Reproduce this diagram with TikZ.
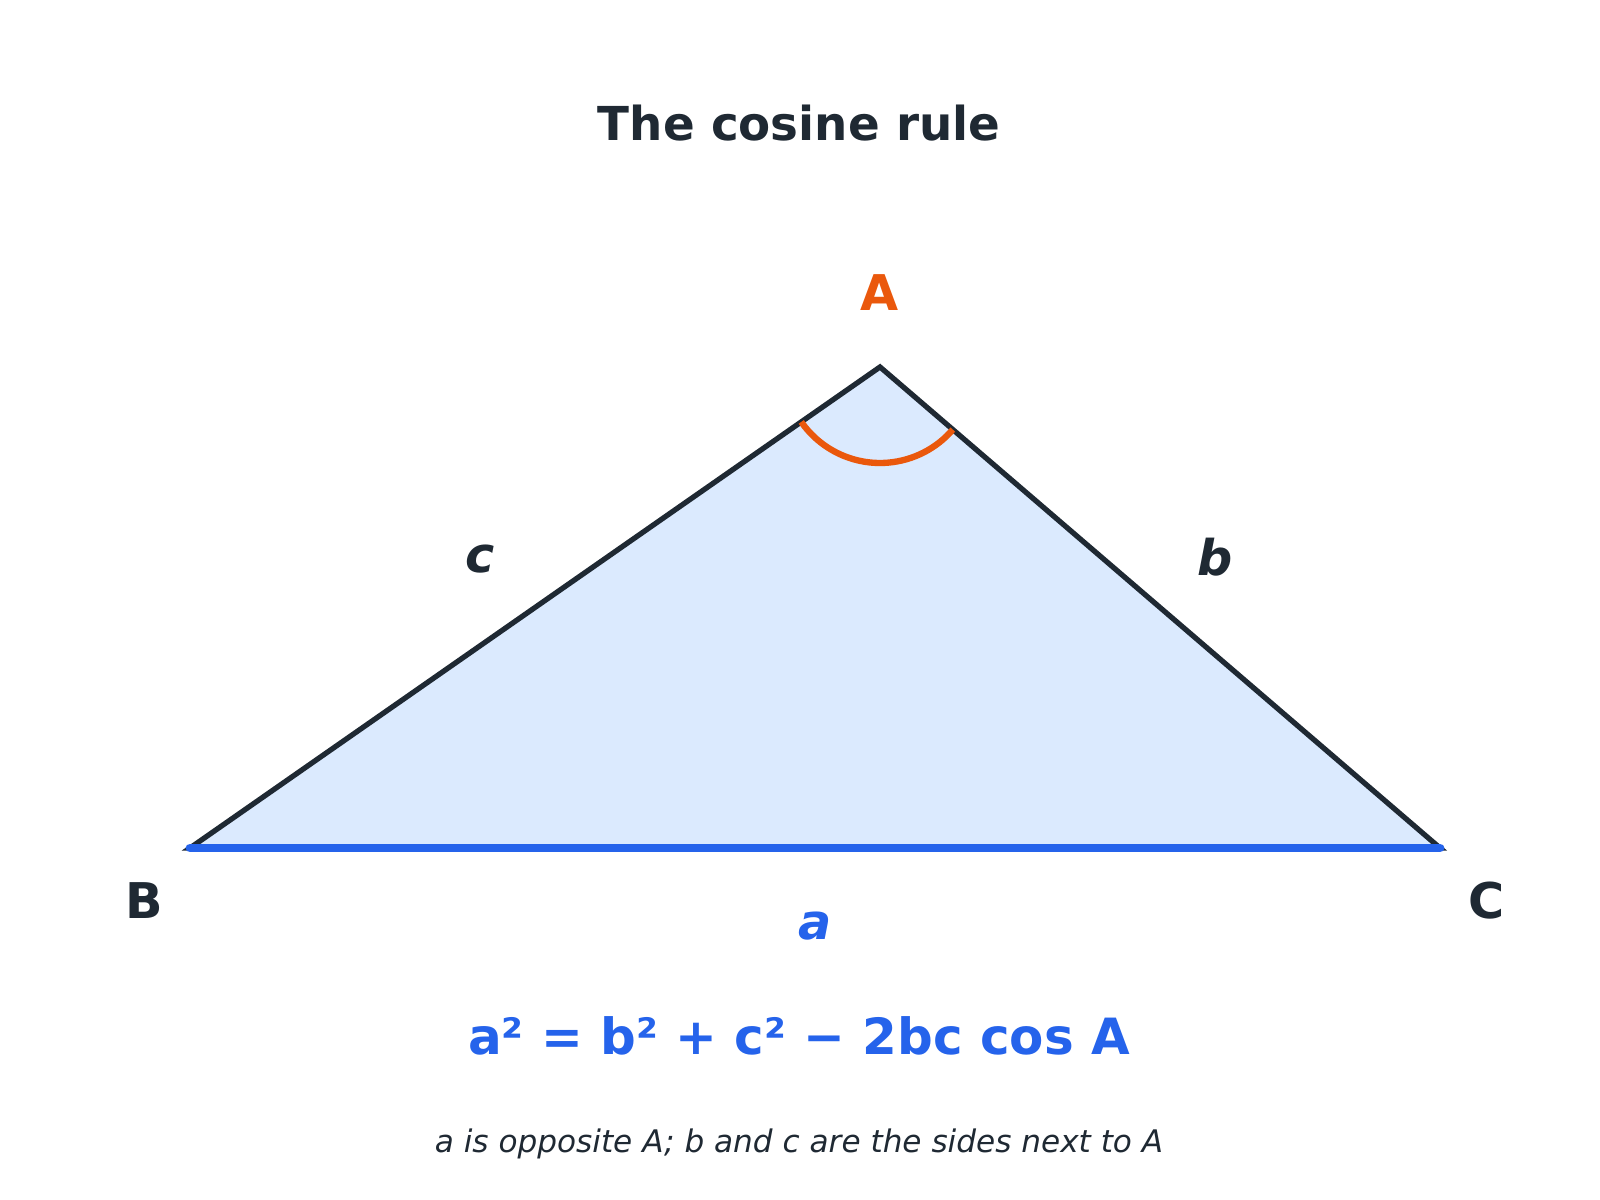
\documentclass[tikz,border=0pt]{standalone}
\usepackage{fontspec}
\setmainfont{DejaVu Sans}
\definecolor{ink}{HTML}{1F2933}
\definecolor{orng}{HTML}{EA580C}
\definecolor{blu}{HTML}{2563EB}
\definecolor{fillb}{HTML}{DBEAFE}
\begin{document}
\begin{tikzpicture}[x=0.01cm,y=0.01cm,
  vlabel/.style={font=\fontsize{14}{16}\selectfont\bfseries, text=ink, inner sep=0pt},
  slabel/.style={font=\fontsize{14}{16}\selectfont\bfseries\itshape, text=ink, inner sep=0pt}]
\useasboundingbox[fill=white] (0,0) rectangle (1600,1200);
\coordinate (A) at (880,833);
\coordinate (B) at (190,352);
\coordinate (C) at (1440,352);
\filldraw[fill=fillb, draw=ink, line width=1.5pt] (A) -- (B) -- (C) -- cycle;
\draw[blu, line width=2.5pt, line cap=round] (B) -- (C);
\draw[orng, line width=1.8pt] ([shift={(214.9:96)}]A) arc[start angle=214.9, end angle=319.3, radius=96];
\node[font=\fontsize{13.3}{15}\selectfont\bfseries, text=ink] (title) at (799,1077) {The cosine rule};
\node[vlabel, text=orng] (lA) at (880,907) {A};
\node[vlabel] (lB) at (144,299) {B};
\node[vlabel] (lC) at (1487,299) {C};
\node[slabel] (lc) at (480,641) {c};
\node[slabel] (lb) at (1215,643) {b};
\node[slabel, text=blu] (la) at (815,274) {a};
\node[font=\fontsize{14.2}{16}\selectfont\bfseries, text=blu] (formula) at (799,164) {a² = b² + c² − 2bc cos A};
\node[font=\fontsize{8.85}{10}\selectfont\itshape, text=ink] (note) at (799,56) {a is opposite A; b and c are the sides next to A};
\end{tikzpicture}
\end{document}
